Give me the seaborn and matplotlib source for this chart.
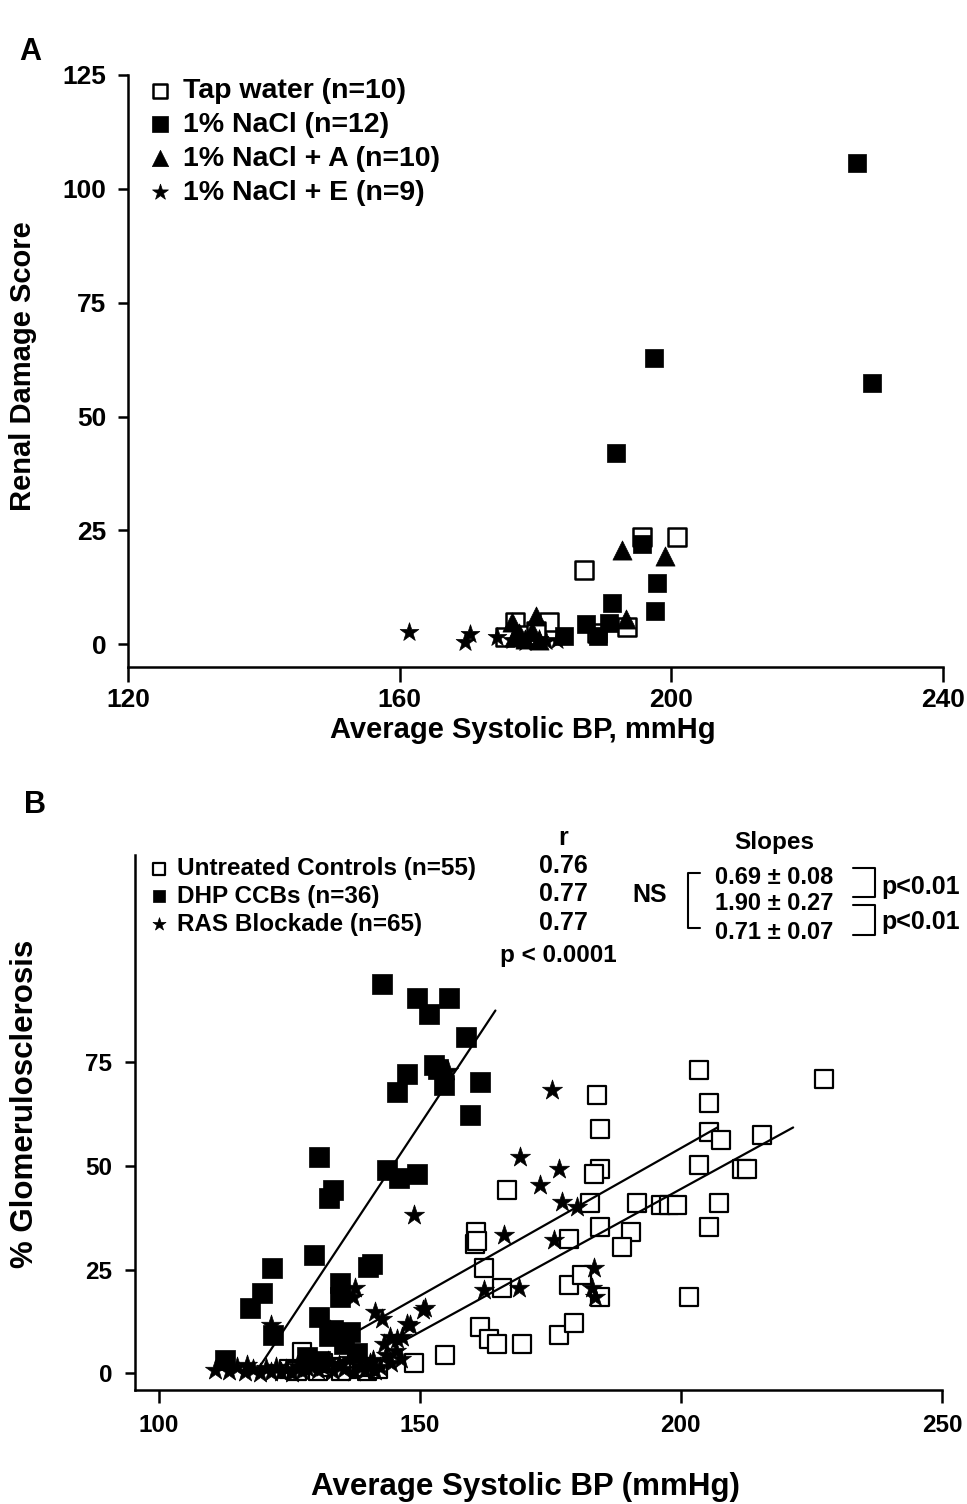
import matplotlib
matplotlib.use("Agg")
import matplotlib.pyplot as plt
from matplotlib.lines import Line2D
import seaborn as sns

sns.set_style("ticks")
plt.rcParams["font.family"] = ["Liberation Sans", "DejaVu Sans"]
plt.rcParams["font.weight"] = "bold"
plt.rcParams["axes.labelweight"] = "bold"
for key in ["text.color", "axes.labelcolor", "xtick.color", "ytick.color", "axes.edgecolor"]:
    plt.rcParams[key] = "black"

# ---------------- Panel A data ----------------
tap_bp = [187.2, 195.7, 200.9, 193.5, 182.0, 177.0, 178.5, 180.0, 175.5, 189.0]
tap_score = [16.3, 23.5, 23.5, 3.7, 4.8, 4.8, 2.0, 3.0, 1.5, 2.5]

nacl_bp = [227.4, 229.5, 197.5, 191.9, 195.7, 197.9, 197.6, 191.3, 190.8, 187.5, 189.2, 184.2]
nacl_score = [105.7, 57.3, 62.8, 42.0, 22.0, 13.5, 7.3, 9.1, 4.7, 4.4, 1.8, 1.8]

nacl_a_bp = [192.7, 199.0, 180.1, 176.5, 193.3, 177.5, 178.5, 179.5, 180.5, 176.8]
nacl_a_score = [20.8, 19.3, 6.2, 4.8, 5.5, 2.5, 1.2, 3.0, 1.0, 1.5]

nacl_e_bp = [161.4, 170.3, 169.6, 174.3, 183.1, 176.5, 178.5, 180.5, 181.5]
nacl_e_score = [2.6, 2.2, 0.4, 1.5, 1.0, 1.0, 0.5, 1.2, 0.8]

labels_a = ["Tap water (n=10)", "1% NaCl (n=12)", "1% NaCl + A (n=10)", "1% NaCl + E (n=9)"]

# ---------------- Panel B data ----------------
untreated_bp = [203.4, 227.4, 184.0, 205.4, 184.6, 205.4, 207.6, 215.6, 203.4, 211.8,
                212.6, 184.6, 183.3, 166.7, 207.3, 191.6, 182.7, 196.2, 197.7, 199.2,
                184.6, 190.4, 205.4, 188.8, 178.5, 160.7, 160.6, 161.0, 162.3, 165.8,
                178.5, 181.1, 184.6, 201.5, 161.6, 163.2, 164.8, 169.6, 176.6, 179.5,
                154.9, 148.9, 127.5, 125.0, 128.5, 130.5, 133.0, 136.0, 138.0, 140.0,
                142.0, 126.5, 131.5, 135.0, 139.0]
untreated_gs = [73.1, 71.1, 67.1, 65.1, 59.0, 58.2, 56.2, 57.4, 50.2, 49.4,
                49.4, 49.4, 48.2, 44.2, 41.0, 41.0, 41.0, 40.5, 40.5, 40.5,
                35.3, 34.1, 35.3, 30.5, 32.5, 34.1, 31.3, 32.0, 25.3, 20.5,
                21.3, 23.7, 18.5, 18.5, 11.2, 8.4, 7.2, 7.2, 9.2, 12.2,
                4.4, 2.4, 5.2, 1.0, 2.0, 0.5, 1.5, 1.0, 2.0, 0.5,
                1.0, 0.5, 2.5, 0.5, 1.5]

dhp_bp = [112.8, 117.6, 119.8, 121.7, 122.0, 129.7, 130.7, 133.5, 132.6, 130.7,
          133.5, 136.7, 134.8, 134.8, 140.2, 140.9, 143.8, 146.0, 149.5, 145.7,
          147.6, 152.7, 154.6, 161.6, 159.7, 158.8, 151.7, 149.5, 155.6, 142.8,
          135.6, 132.7, 153.5, 138.0, 131.0, 128.5]
dhp_gs = [3.2, 15.7, 19.3, 25.3, 9.2, 28.5, 52.2, 44.2, 42.2, 13.6,
          10.4, 10.0, 21.7, 18.5, 25.7, 26.5, 49.0, 47.0, 48.2, 67.9,
          72.3, 74.3, 69.5, 70.3, 62.2, 81.1, 86.7, 90.4, 90.4, 94.0,
          7.0, 9.0, 73.5, 5.0, 3.0, 4.0]

ras_bp = [175.4, 169.3, 176.6, 173.1, 177.3, 180.2, 148.9, 166.1, 175.7, 183.3,
          162.3, 169.0, 183.0, 183.5, 151.1, 148.2, 146.6, 137.7, 141.5, 121.5,
          142.8, 145.7, 143.1, 132.9, 110.9, 117.0, 150.7, 147.6, 144.4, 137.3,
          155.5, 134.0, 113.5, 115.0, 116.5, 118.0, 119.5, 120.5, 121.5, 122.5,
          123.5, 124.5, 125.5, 126.5, 127.5, 128.5, 129.5, 130.5, 131.5, 132.5,
          133.5, 134.5, 135.5, 136.5, 137.5, 138.5, 139.5, 140.5, 141.5, 142.5,
          143.5, 144.5, 145.5, 146.5, 141.0]
ras_gs = [68.3, 52.2, 49.4, 45.4, 41.3, 40.1, 38.1, 33.3, 32.1, 25.3,
          20.1, 20.5, 20.5, 18.5, 15.7, 11.6, 8.8, 20.5, 14.8, 11.6,
          13.2, 8.4, 7.2, 10.4, 0.8, 2.0, 15.3, 12.0, 8.8, 18.4,
          73.0, 9.0, 0.5, 1.5, 0.3, 1.0, 0.2, 1.2, 0.4, 1.6,
          0.3, 1.0, 0.2, 1.8, 0.6, 1.2, 2.2, 0.8, 1.6, 3.0,
          0.5, 2.0, 1.0, 3.5, 0.4, 1.8, 0.9, 2.6, 0.5, 1.5,
          4.5, 2.5, 5.5, 3.5, 3.2]

# regression lines (end points)
fit_untreated_bp = [145.0, 221.5]
fit_untreated_gs = [6.5, 59.3]
fit_dhp_bp = [118.5, 164.5]
fit_dhp_gs = [0.0, 87.5]
fit_ras_bp = [136.0, 207.0]
fit_ras_gs = [8.7, 59.3]

labels_b = ["Untreated Controls (n=55)", "DHP CCBs (n=36)", "RAS Blockade (n=65)"]
r_values = ["0.76", "0.77", "0.77"]
slopes = ["0.69 \u00b1 0.08", "1.90 \u00b1 0.27", "0.71 \u00b1 0.07"]

W, H = 967, 1504
fig = plt.figure(figsize=(W / 100, H / 100), dpi=100)


def fx(px):
    return px / W


def fy(py):
    return 1 - py / H


def style_axes(ax, labelsize, xlen, xpad, ypad):
    sns.despine(ax=ax)
    for side in ["left", "bottom"]:
        ax.spines[side].set_linewidth(1.8)
    ax.tick_params(axis="both", direction="out", width=1.8, labelsize=labelsize)
    ax.tick_params(axis="y", length=7.5, pad=ypad)
    ax.tick_params(axis="x", length=xlen, pad=xpad)


# ---------------- Panel A ----------------
axA = fig.add_axes([fx(128), fy(667), fx(943) - fx(128), fy(75) - fy(667)])
sns.scatterplot(x=tap_bp, y=tap_score, ax=axA, marker="s", s=150, color="white",
                edgecolor="black", linewidth=1.8, label=labels_a[0], zorder=3)
sns.scatterplot(x=nacl_bp, y=nacl_score, ax=axA, marker="s", s=170, color="black",
                edgecolor="black", linewidth=0.5, label=labels_a[1], zorder=3)
sns.scatterplot(x=nacl_a_bp, y=nacl_a_score, ax=axA, marker="^", s=190, color="black",
                edgecolor="black", linewidth=0.5, label=labels_a[2], zorder=3)
sns.scatterplot(x=nacl_e_bp, y=nacl_e_score, ax=axA, marker="*", s=200, color="black",
                edgecolor="black", linewidth=0.5, label=labels_a[3], zorder=3)
axA.set_xlim(120, 240)
axA.set_ylim(-5, 125)
axA.set_xticks([120, 160, 200, 240])
axA.set_yticks([0, 25, 50, 75, 100, 125])
style_axes(axA, 19, 11, 4, 8)
axA.set_xlabel("Average Systolic BP, mmHg", fontsize=21, va="center")
axA.set_ylabel("Renal Damage Score", fontsize=21, va="center")
axA.xaxis.set_label_coords((523 - 128) / 815, (667 - 730) / 592)
axA.yaxis.set_label_coords((23 - 128) / 815, (667 - 366) / 592)
axA.legend(loc="upper left", bbox_to_anchor=((149 - 128) / 815, (667 - 78) / 592),
           frameon=False, fontsize=20.5, markerscale=0.85, handlelength=0.8,
           handletextpad=0.4, labelspacing=0.28, borderpad=0, borderaxespad=0)
fig.text(fx(30), fy(52), "A", fontsize=22, fontweight="bold", ha="center", va="center")

# ---------------- Panel B ----------------
axB = fig.add_axes([fx(135), fy(1390), fx(942) - fx(135), fy(855) - fy(1390)])
sns.scatterplot(x=untreated_bp, y=untreated_gs, ax=axB, marker="s", s=150, color="white",
                edgecolor="black", linewidth=1.6, label=labels_b[0], zorder=3)
sns.scatterplot(x=dhp_bp, y=dhp_gs, ax=axB, marker="s", s=190, color="black",
                edgecolor="black", linewidth=0.5, label=labels_b[1], zorder=3)
sns.scatterplot(x=ras_bp, y=ras_gs, ax=axB, marker="*", s=230, color="black",
                edgecolor="black", linewidth=0.5, label=labels_b[2], zorder=3)
for lx, ly in [(fit_untreated_bp, fit_untreated_gs), (fit_dhp_bp, fit_dhp_gs),
               (fit_ras_bp, fit_ras_gs)]:
    sns.lineplot(x=lx, y=ly, ax=axB, color="black", linewidth=1.6, zorder=4)
axB.set_xlim(95.5, 250)
axB.set_ylim(-4, 125)
axB.set_xticks([100, 150, 200, 250])
axB.set_yticks([0, 25, 50, 75])
style_axes(axB, 17.5, 9, 8, 9)
axB.set_xlabel("Average Systolic BP (mmHg)", fontsize=22.5, va="center")
axB.set_ylabel("% Glomerulosclerosis", fontsize=22.5, va="center")
axB.xaxis.set_label_coords((525 - 135) / 807, (1390 - 1487) / 535)
axB.yaxis.set_label_coords((25 - 135) / 807, (1390 - 1104) / 535)
axB.legend(loc="upper left", bbox_to_anchor=((150 - 135) / 807, (1390 - 857) / 535),
           frameon=False, fontsize=17.5, markerscale=0.65, handlelength=0.7,
           handletextpad=0.4, labelspacing=0.2, borderpad=0, borderaxespad=0)
fig.text(fx(35), fy(805), "B", fontsize=22, fontweight="bold", ha="center", va="center")

# correlation column
fig.text(fx(563), fy(838), "r", fontsize=18, ha="center", va="center")
for py, r in zip([866, 894, 923], r_values):
    fig.text(fx(563), fy(py), r, fontsize=18, ha="center", va="center")
fig.text(fx(558), fy(956), "p < 0.0001", fontsize=17.5, ha="center", va="center")

# slopes column
fig.text(fx(774), fy(842), "Slopes", fontsize=17.5, ha="center", va="center")
for py, s in zip([877, 903, 933], slopes):
    fig.text(fx(774), fy(py), s, fontsize=17, ha="center", va="center")
fig.text(fx(650), fy(895), "NS", fontsize=18, ha="center", va="center")
fig.text(fx(881), fy(887), "p<0.01", fontsize=18, ha="left", va="center")
fig.text(fx(881), fy(922), "p<0.01", fontsize=18, ha="left", va="center")


def bracket(xs, ys):
    fig.add_artist(Line2D([fx(v) for v in xs], [fy(v) for v in ys],
                          color="black", linewidth=1.5, transform=fig.transFigure))


bracket([700, 688, 688, 700], [873, 873, 928, 928])
bracket([853, 875, 875, 853], [868, 868, 897, 897])
bracket([853, 875, 875, 853], [905, 905, 935, 935])

fig.savefig("out.png", dpi=100)
